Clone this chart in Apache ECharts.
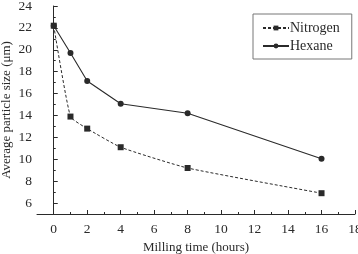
<!DOCTYPE html>
<html>
<head>
<meta charset="utf-8">
<script src="https://cdn.jsdelivr.net/npm/echarts@6/dist/echarts.min.js"></script>
<style>
  html, body { margin: 0; padding: 0; background: #fff; }
  #chart { width: 358px; height: 254px; }
</style>
</head>
<body>
<div id="chart"></div>
<script>
const millingHours = [0, 1, 2, 4, 8, 16];
const nitrogenSize = [22.2, 13.9, 12.8, 11.1, 9.2, 6.9];
const hexaneSize = [22.2, 19.7, 17.15, 15.07, 14.2, 10.05];

const xMajorTicks = [0, 2, 4, 6, 8, 10, 12, 14, 16, 18];
const xMinorTicks = [1, 3, 5, 7, 9, 11, 13, 15, 17];
const yMajorTicks = [6, 8, 10, 12, 14, 16, 18, 20, 22, 24];
const yMinorTicks = [7, 9, 11, 13, 15, 17, 19, 21, 23];

const ink = "#2a2a2a";
const serif = "Liberation Serif";

const chart = echarts.init(document.getElementById("chart"));

const pairs = (ys) => millingHours.map((x, i) => [x, ys[i]]);

const option = {
  animation: false,
  textStyle: { fontFamily: serif, color: ink },
  grid: { left: 37, right: 3, top: 6, bottom: 40, containLabel: false, outerBoundsMode: "none" },
  legend: {
    orient: "vertical",
    left: 253,
    top: 14,
    padding: [7, 12, 6, 9],
    itemGap: 4,
    itemWidth: 26,
    itemHeight: 6,
    borderColor: "#777",
    borderWidth: 1,
    textStyle: { fontFamily: serif, fontSize: 14, color: ink, padding: [0, 0, 0, -4] },
    data: ["Nitrogen", "Hexane"],
  },
  xAxis: [
    {
      type: "value",
      min: -1,
      max: 18,
      name: "Milling time (hours)",
      nameLocation: "middle",
      nameGap: 27,
      nameMoveOverlap: false,
      nameTextStyle: { fontFamily: serif, fontSize: 13, color: ink },
      axisLine: { lineStyle: { color: ink, width: 1 } },
      axisTick: { inside: true, length: 4, customValues: xMajorTicks, lineStyle: { color: ink } },
      axisLabel: { customValues: xMajorTicks, margin: 8, fontFamily: serif, fontSize: 13.5, color: ink },
      splitLine: { show: false },
    },
    {
      type: "value",
      min: -1,
      max: 18,
      position: "bottom",
      axisLine: { show: false },
      axisTick: { inside: true, length: 2, customValues: xMinorTicks, lineStyle: { color: ink } },
      axisLabel: { show: false },
      splitLine: { show: false },
    },
  ],
  yAxis: [
    {
      type: "value",
      min: 5,
      max: 24,
      name: "Average particle size (\u03bcm)",
      nameLocation: "middle",
      nameGap: 24,
      nameMoveOverlap: false,
      nameTextStyle: { fontFamily: serif, fontSize: 13, color: ink },
      axisLine: { show: true, lineStyle: { color: ink, width: 1 } },
      axisTick: { show: true, inside: true, length: 4, customValues: yMajorTicks, lineStyle: { color: ink } },
      axisLabel: { customValues: yMajorTicks, margin: 5, fontFamily: serif, fontSize: 13.5, color: ink },
      splitLine: { show: false },
    },
    {
      type: "value",
      min: 5,
      max: 24,
      position: "left",
      axisLine: { show: false },
      axisTick: { show: true, inside: true, length: 2, customValues: yMinorTicks, lineStyle: { color: ink } },
      axisLabel: { show: false },
      splitLine: { show: false },
    },
  ],
  series: [
    {
      name: "Nitrogen",
      type: "line",
      data: pairs(nitrogenSize),
      symbol: "rect",
      symbolSize: 6,
      smooth: 0.15,
      lineStyle: { color: ink, width: 1, type: [3, 2] },
      itemStyle: { color: ink },
    },
    {
      name: "Hexane",
      type: "line",
      data: pairs(hexaneSize),
      symbol: "circle",
      symbolSize: 6,
      lineStyle: { color: ink, width: 1.1 },
      itemStyle: { color: ink },
    },
  ],
};

chart.setOption(option);
</script>
</body>
</html>
